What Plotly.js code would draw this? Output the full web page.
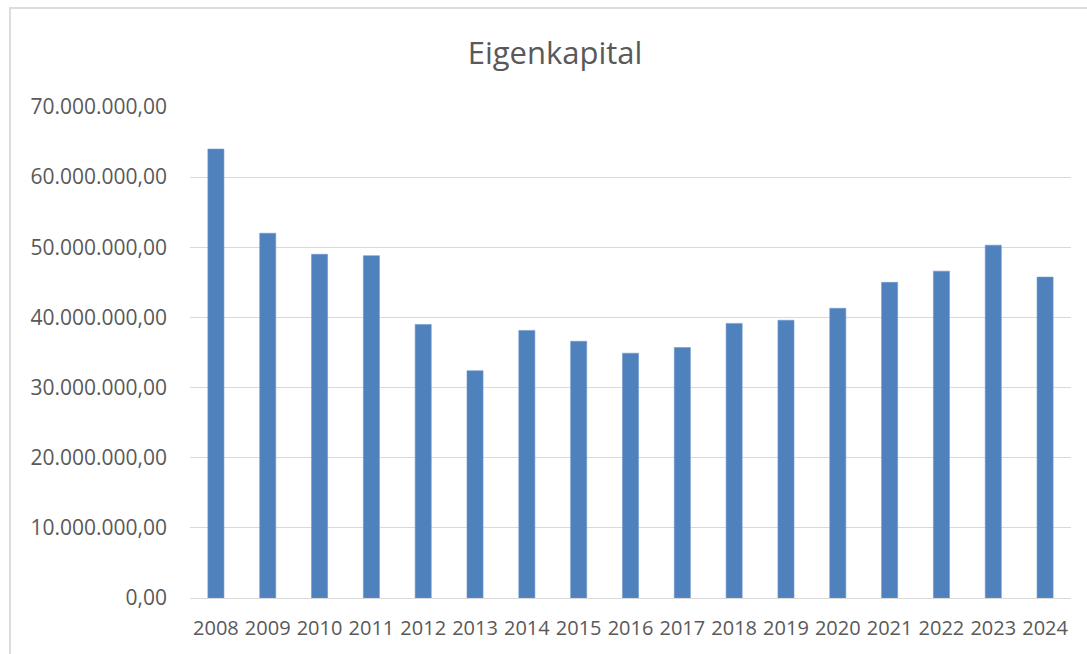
<!DOCTYPE html>
<html>
<head>
<meta charset="utf-8">
<script src="https://cdn.plot.ly/plotly-3.0.1.min.js"></script>
<style>
  html, body { margin: 0; padding: 0; background: #ffffff; overflow: hidden; }
  #chart { width: 1087px; height: 654px; position: absolute; left: 0; top: 0; }
  #frame { position: absolute; left: 9px; top: 7px; width: 1200px; height: 800px;
           border: 2px solid #dcdcdc; pointer-events: none; box-sizing: border-box; }
</style>
</head>
<body>
<div id="chart"></div>
<div id="frame"></div>
<script>
const chartTitle = "Eigenkapital";
const years = ["2008","2009","2010","2011","2012","2013","2014","2015","2016","2017","2018","2019","2020","2021","2022","2023","2024"];
const equity = [64000000, 52000000, 49000000, 48800000, 39000000, 32400000, 38150000, 36600000, 34900000, 35700000, 39150000, 39600000, 41300000, 45000000, 46600000, 50300000, 45750000];
const yTicks = [0, 10000000, 20000000, 30000000, 40000000, 50000000, 60000000, 70000000];

const trace = {
  type: "bar",
  x: years,
  y: equity,
  marker: { color: "#4f81bd", line: { color: "#6f97cb", width: 0.6 } },
  hoverinfo: "x+y"
};

const layout = {
  width: 1087,
  height: 654,
  margin: { l: 190, r: 16, t: 107, b: 56, pad: 0 },
  paper_bgcolor: "#ffffff",
  plot_bgcolor: "#ffffff",
  separators: ",.",
  showlegend: false,
  bargap: 0.69,
  title: {
    text: chartTitle,
    font: { family: "Open Sans, Calibri, sans-serif", size: 31, color: "#595959" },
    xref: "container", x: 0.5106,
    yref: "container", y: 0.919, yanchor: "middle", xanchor: "center"
  },
  xaxis: {
    type: "category",
    automargin: false,
    showgrid: false,
    showline: true,
    linecolor: "#d9d9d9",
    linewidth: 1,
    ticks: "",
    ticklabelstandoff: 12,
    tickfont: { family: "Open Sans, Calibri, sans-serif", size: 20, color: "#595959" },
    zeroline: false
  },
  yaxis: {
    range: [0, 70000000],
    tickvals: yTicks,
    tickformat: ",.2f",
    automargin: false,
    showgrid: true,
    gridcolor: "#d9d9d9",
    gridwidth: 1,
    zeroline: false,
    showline: false,
    ticks: "",
    ticklabelstandoff: 22,
    tickfont: { family: "Open Sans, Calibri, sans-serif", size: 21, color: "#595959" }
  }
};

Plotly.newPlot("chart", [trace], layout, { displayModeBar: false, staticPlot: true });
</script>
</body>
</html>
